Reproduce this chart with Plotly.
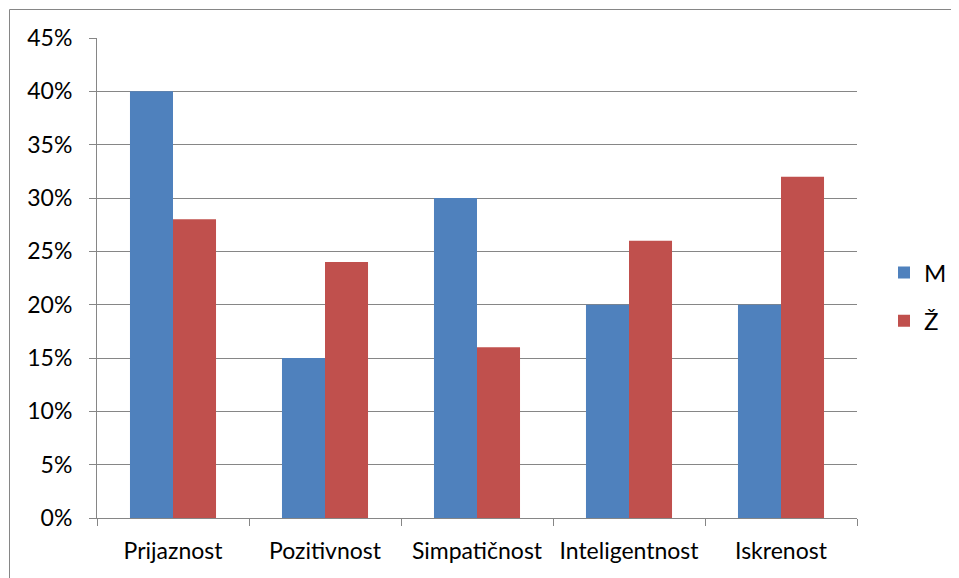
import plotly.graph_objects as go

categories = ['Prijaznost', 'Pozitivnost', 'Simpatičnost', 'Inteligentnost', 'Iskrenost']
values_m = [0.40, 0.15, 0.30, 0.20, 0.20]
values_z = [0.28, 0.24, 0.16, 0.26, 0.32]
y_ticks = [0, 0.05, 0.10, 0.15, 0.20, 0.25, 0.30, 0.35, 0.40, 0.45]

OFF = 8  # page body margin
W, H = 959 - OFF, 578 - OFF
L, R, T, B = 97 - OFF, 857 - OFF, 38 - OFF, 518 - OFF

fig = go.Figure()
fig.add_trace(go.Bar(x=categories, y=values_m, name='M', legendgroup='m',
                     marker=dict(color='#4F81BD', line=dict(width=0))))
fig.add_trace(go.Bar(x=categories, y=values_z, name='Ž', legendgroup='z',
                     marker=dict(color='#C0504D', line=dict(width=0))))

# outer chart frame
fig.add_shape(type='rect', xref='paper', yref='paper',
              x0=(9.5 - OFF - L) / (R - L), x1=(W + 5 - L) / (R - L),
              y0=(B - H - 5) / (B - T), y1=(B - (9.5 - OFF)) / (B - T),
              line=dict(color='#868686', width=1), layer='below')

fig.update_layout(
    width=W, height=H,
    margin=dict(l=L, r=W - R, t=T, b=H - B, autoexpand=False),
    plot_bgcolor='white', paper_bgcolor='white',
    barmode='group', bargap=0.434, bargroupgap=0,
    font=dict(family='Lato, Carlito, sans-serif', size=24, color='black'),
    showlegend=True,
    legend=dict(x=(884 - OFF - L) / (R - L), y=(518 - 297) / 480, xanchor='left', yanchor='middle',
                traceorder='grouped', tracegroupgap=14, itemsizing='constant',
                font=dict(size=24)),
    xaxis=dict(showline=True, linecolor='#868686', linewidth=1,
               ticks='outside', ticklen=7, tickcolor='#868686', tickson='boundaries',
               showgrid=False, ticklabelstandoff=12, tickangle=0,
               tickfont=dict(size=23)),
    yaxis=dict(range=[0, 0.45], tickvals=y_ticks, tickformat='.0%',
               showline=True, linecolor='#868686', linewidth=1,
               ticks='outside', ticklen=7, tickcolor='#868686',
               showgrid=True, gridcolor='#868686', gridwidth=1,
               zeroline=False, ticklabelstandoff=12, tickfont=dict(size=23)),
)

fig.write_html('out.html')
